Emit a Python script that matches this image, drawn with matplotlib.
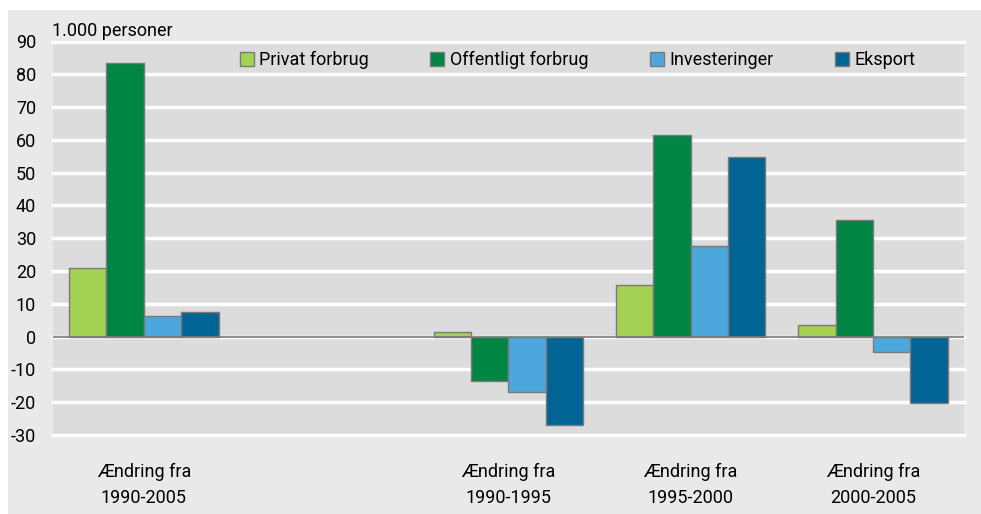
import matplotlib
matplotlib.use("Agg")
import matplotlib.pyplot as plt
from matplotlib.patches import Rectangle
import numpy as np

categories = ["Ændring fra\n1990-2005", "", "Ændring fra\n1990-1995",
              "Ændring fra\n1995-2000", "Ændring fra\n2000-2005"]
series_names = ["Privat forbrug", "Offentligt forbrug", "Investeringer", "Eksport"]
privat = [20.8, np.nan, 1.4, 15.7, 3.6]
offentligt = [83.4, np.nan, -13.6, 61.6, 35.6]
investeringer = [6.2, np.nan, -16.8, 27.6, -4.6]
eksport = [7.6, np.nan, -27.1, 54.8, -20.2]
yticks = list(range(-30, 100, 10))
unit_label = "1.000 personer"

colors = ["#a2d154", "#008542", "#4ca7dd", "#016495"]
plt.rcParams['font.family'] = ['Roboto', 'DejaVu Sans']
FS = 13

fig = plt.figure(figsize=(9.81, 5.14), dpi=100, facecolor="white")
fig.patches.append(Rectangle((8/981, 0), 1, 1 - 10/514, transform=fig.transFigure,
                             facecolor="#e9e9e9", edgecolor="none", zorder=-10))
ax = fig.add_axes([52.7/981, 1 - 435/514, (964 - 52.7)/981, (435 - 41.5)/514])
ax.set_facecolor("#dcdcdc")

x = np.arange(len(categories))
w = 0.205
data = [privat, offentligt, investeringer, eksport]
for i, (vals, name, c) in enumerate(zip(data, series_names, colors)):
    ax.bar(x + (i - 1.5) * w, vals, width=w, color=c, edgecolor="#7a7a7a",
           linewidth=1.0, label=name, zorder=3)

ax.set_xlim(-0.5, len(categories) - 0.5)
ax.set_ylim(-30, 90)
ax.set_yticks(yticks)
ax.set_yticklabels([str(t) for t in yticks], fontsize=FS)
ax.set_xticks(x)
ax.set_xticklabels(categories, fontsize=FS, linespacing=1.6)
ax.tick_params(axis='y', length=0, pad=12)
ax.tick_params(axis='x', length=0, pad=20)
for s in ax.spines.values():
    s.set_visible(False)
ax.grid(axis='y', color="white", linewidth=2.5, zorder=1)
ax.set_axisbelow(True)
for gl in ax.get_ygridlines():
    gl.set_clip_on(False)
ax.axhline(0, color="#7a7a7a", linewidth=1.2, zorder=4)

fig.text(52/981, 1 - 36/514, unit_label, fontsize=FS, ha="left", va="baseline")

leg = ax.legend(loc="center left", bbox_to_anchor=(0.205, 0.952), ncol=4,
                frameon=False, fontsize=FS, borderpad=0, handlelength=0.78,
                handleheight=0.78, handletextpad=0.3, columnspacing=3.4,
                borderaxespad=0)

fig.savefig("out.png", dpi=100, facecolor=fig.get_facecolor())
